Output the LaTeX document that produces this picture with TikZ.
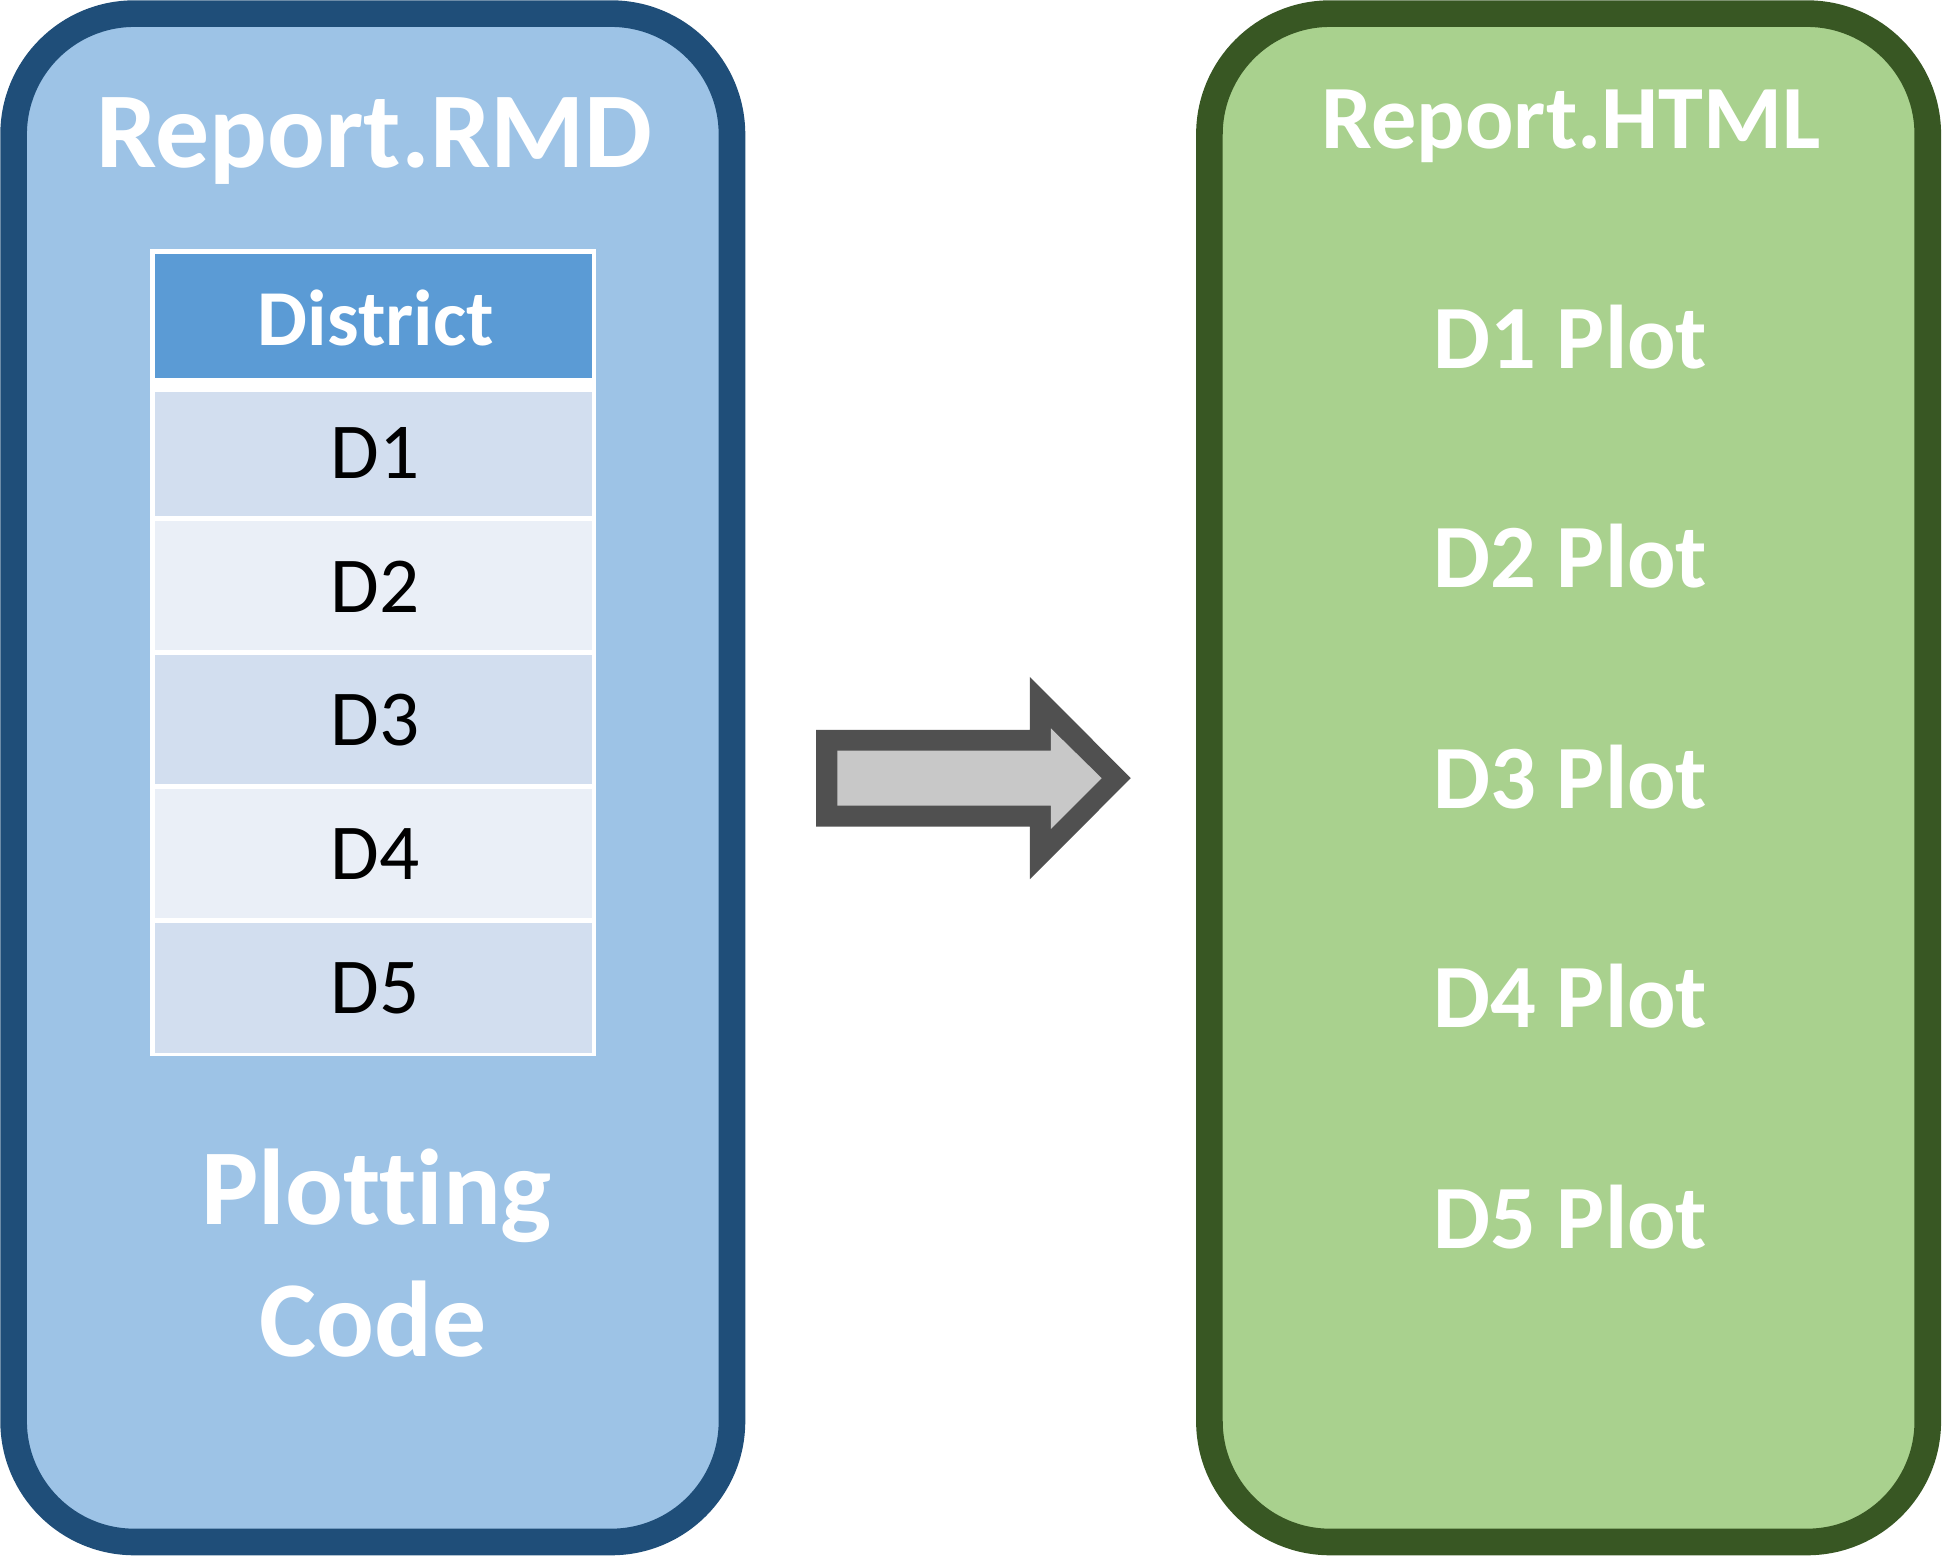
\documentclass[tikz,border=0pt]{standalone}
\usepackage{fontspec}
\setmainfont{Carlito}[Ligatures={NoCommon,NoRequired,NoContextual}]
\definecolor{rmdborder}{HTML}{1F4E79}
\definecolor{rmdfill}{HTML}{9DC3E6}
\definecolor{headfill}{HTML}{5B9BD5}
\definecolor{rowA}{HTML}{D2DEEF}
\definecolor{rowB}{HTML}{EAEFF7}
\definecolor{htmlborder}{HTML}{385723}
\definecolor{htmlfill}{HTML}{A9D18E}
\definecolor{arrowdark}{HTML}{505050}
\definecolor{arrowlight}{HTML}{C8C8C8}
\begin{document}
\begin{tikzpicture}[x=1pt,y=-1pt,
  bigbox/.style={rectangle, rounded corners=97.5pt, line width=21.5pt, inner sep=0pt, minimum width=580pt, minimum height=1234pt},
  cell/.style={rectangle, inner sep=0pt, minimum width=353pt},
  titletext/.style={inner sep=0pt, anchor=base, text=white, font=\fontsize{87}{87}\selectfont\bfseries},
  htmltitle/.style={inner sep=0pt, anchor=base, text=white, font=\fontsize{73}{73}\selectfont\bfseries},
  plottext/.style={inner sep=0pt, anchor=base, text=white, font=\fontsize{73}{73}\selectfont\bfseries},
  headtext/.style={inner sep=0pt, anchor=base, text=white, font=\fontsize{64}{64}\selectfont\bfseries},
  rowtext/.style={inner sep=0pt, anchor=base, text=black, font=\fontsize{64}{64}\selectfont}]
\useasboundingbox (0,0) rectangle (1568,1256);
% left box
\node[bigbox, draw=rmdborder, fill=rmdfill] (rmd) at (301,628) {};
\node[titletext] (rmdtitle) at (302.5,135) {Report.RMD};
% table
\node[rectangle, fill=white, inner sep=0pt, minimum width=360pt, minimum height=652pt] (table) at (301,527) {};
\node[cell, fill=headfill, minimum height=100pt] (head) at (301.5,255) {};
\node[cell, fill=rowA, minimum height=100.5pt] (r1) at (301.5,366.75) {};
\node[cell, fill=rowB, minimum height=104pt] (r2) at (301.5,473) {};
\node[cell, fill=rowA, minimum height=104pt] (r3) at (301.5,581) {};
\node[cell, fill=rowB, minimum height=104pt] (r4) at (301.5,689) {};
\node[cell, fill=rowA, minimum height=105pt] (r5) at (301.5,797.5) {};
\node[headtext] (headlabel) at (303.5,278.6) {District};
\node[rowtext] (t1) at (303,386.5) {D1};
\node[rowtext] (t2) at (303,494.7) {D2};
\node[rowtext] (t3) at (303,602.3) {D3};
\node[rowtext] (t4) at (303,710.5) {D4};
\node[rowtext] (t5) at (303,818.2) {D5};
\node[titletext] (plotting) at (304,988.3) {Plotting};
\node[titletext] (code) at (301.5,1095.4) {Code};
% arrow
\fill[arrowdark] (659,589.4) -- (831.6,589.4) -- (831.6,546.6) -- (913,628.3) -- (831.6,709.8) -- (831.6,667.5) -- (659,667.5) -- cycle;
\fill[arrowlight] (676,606) -- (848.4,606) -- (848.4,588) -- (889.5,628.3) -- (848.4,669.4) -- (848.4,650.5) -- (676,650.5) -- cycle;
% right box
\node[bigbox, draw=htmlborder, fill=htmlfill] (html) at (1266.5,628) {};
\node[htmltitle] (htmltitle) at (1268.5,119.8) {Report.HTML};
\node[plottext] (p1) at (1268,297.4) {D1 Plot};
\node[plottext] (p2) at (1268,474.6) {D2 Plot};
\node[plottext] (p3) at (1268,653) {D3 Plot};
\node[plottext] (p4) at (1268,830) {D4 Plot};
\node[plottext] (p5) at (1268,1008) {D5 Plot};
\end{tikzpicture}
\end{document}
